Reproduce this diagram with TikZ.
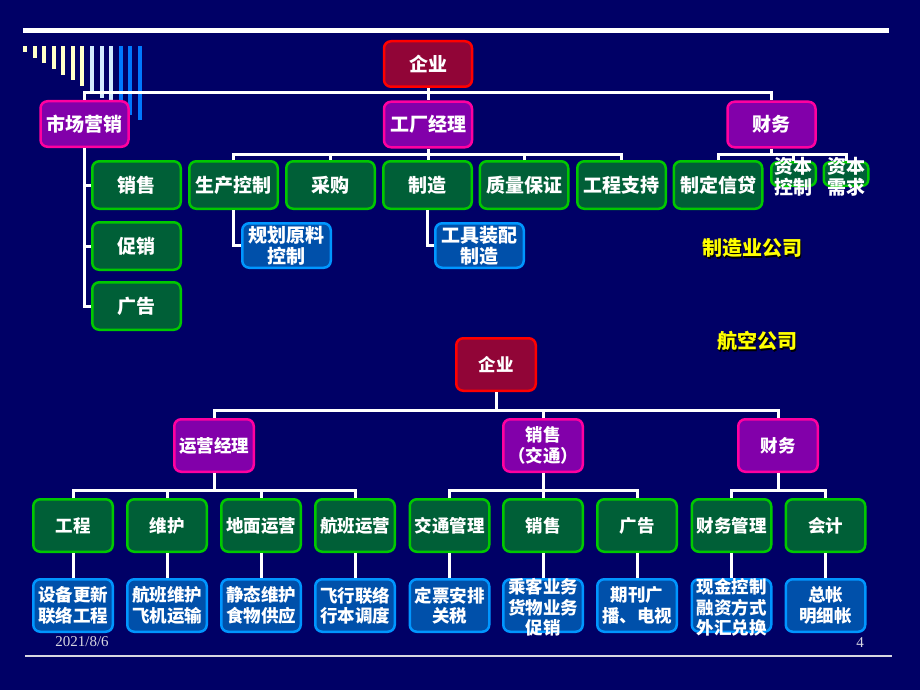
\documentclass[tikz,border=0pt]{standalone}
\usepackage{fontspec}
\setmainfont{Liberation Serif}
\newfontfamily\cjk{Noto Sans CJK SC}
\definecolor{bg}{RGB}{0,0,102}
\definecolor{qyfill}{RGB}{145,5,55}
\definecolor{qyline}{RGB}{255,0,0}
\definecolor{ppfill}{RGB}{130,0,170}
\definecolor{ppline}{RGB}{255,0,160}
\definecolor{gnfill}{RGB}{0,95,55}
\definecolor{gnline}{RGB}{0,200,0}
\definecolor{bufill}{RGB}{0,80,170}
\definecolor{buline}{RGB}{0,150,255}
\definecolor{barY}{RGB}{255,255,200}
\definecolor{barC}{RGB}{210,235,255}
\definecolor{barB}{RGB}{0,120,255}
\definecolor{ylw}{RGB}{255,255,0}
\definecolor{foot}{RGB}{215,215,225}
\newcommand\shadowtxt[1]{\rlap{\kern1.5pt\raisebox{-1.5pt}{\textcolor{black}{#1}}}#1}
\begin{document}
\begin{tikzpicture}[x=1pt,y=-1pt,
  conn/.style={draw=white, line width=3pt},
  bx/.style={rounded corners=7pt, line width=2.5pt, text=white, align=center, inner sep=0pt},
  fbig/.style={font=\cjk\bfseries\fontsize{19}{21}\selectfont},
  fsmall/.style={font=\cjk\bfseries\fontsize{17.5}{20.5}\selectfont},
  qybox/.style={bx, draw=qyline, fill=qyfill},
  ppbox/.style={bx, draw=ppline, fill=ppfill},
  gnbox/.style={bx, draw=gnline, fill=gnfill},
  bubox/.style={bx, draw=buline, fill=bufill},
  topsz/.style={minimum width=88pt, minimum height=45.5pt, fbig},
  rowsz/.style={minimum width=88.5pt, minimum height=47.5pt, fbig},
  botsz/.style={minimum width=79.5pt, minimum height=52.5pt, fsmall},
  tinysz/.style={minimum width=44.5pt, minimum height=23.5pt, rounded corners=6pt},
  txt/.style={text=white, align=center, inner sep=0pt},
  ylab/.style={text=ylw, inner sep=0pt, font=\cjk\bfseries\fontsize{20}{22}\selectfont},
  footx/.style={text=foot, inner sep=0pt, font=\fontsize{15}{16}\selectfont}
]
\useasboundingbox (0,0) rectangle (920,690);
\fill[bg] (0,0) rectangle (920,690);
% top rule and footer rule
\draw[white, line width=5.5pt] (23,30.5) -- (889,30.5);
\draw[foot, line width=1.3pt] (25,656) -- (892,656);
% decorative bars
\foreach \i in {0,...,12}{
  \pgfmathsetmacro\bx{23+9.58*\i}
  \pgfmathsetmacro\by{52+5.7*\i}
  \ifnum\i<7 \def\bc{barY}\else\ifnum\i<10 \def\bc{barC}\else\def\bc{barB}\fi\fi
  \fill[\bc] (\bx,46) rectangle ++(4,\by-46);
}
% ---------------- top chart ----------------
\node[qybox, topsz] (qy1) at (428,64) {企业};
\node[ppbox, topsz] (scyx) at (84.5,124) {市场营销};
\node[ppbox, topsz] (gcjl) at (428,124.5) {工厂经理};
\node[ppbox, topsz] (cw1) at (771.5,124.5) {财务};

\node[gnbox, rowsz] (xs1) at (136.5,185) {销售};
\node[gnbox, rowsz] (cx) at (136.5,246) {促销};
\node[gnbox, rowsz] (gg1) at (136.5,306) {广告};

\node[gnbox, rowsz] (sckz) at (233.5,185) {生产控制};
\node[gnbox, rowsz] (cg) at (330.5,185) {采购};
\node[gnbox, rowsz] (zz) at (427.5,185) {制造};
\node[gnbox, rowsz] (zlbz) at (524,185) {质量保证};
\node[gnbox, rowsz] (gczc) at (621.5,185) {工程支持};
\node[gnbox, rowsz] (zdxd) at (718,185) {制定信贷};
\node[gnbox, tinysz] (zbkz) at (793.5,174) {};
\node[gnbox, tinysz] (zbxq) at (846,174) {};

\node[bubox, rowsz, minimum height=44.5pt] (ghyl) at (286.5,245.5) {规划原料\\控制};
\node[bubox, rowsz, minimum height=44.5pt] (gjzp) at (479.5,245.5) {工具装配\\制造};

\draw[conn] (scyx.north) -- ++(0,-7) -| (cw1.north);
\draw[conn] (qy1.south) -- (gcjl.north);
\draw[conn] (gcjl.south) -- (gcjl.south |- zz.north);
\draw[conn] (sckz.north) -- ++(0,-6) -| (gczc.north);
\draw[conn] (cg.north) -- ++(0,-6);
\draw[conn] (zlbz.north) -- ++(0,-6);
\draw[conn] (cw1.south) -- ++(0,6);
\draw[conn] (zdxd.north) -- ++(0,-6) -| (zbxq.north);
\draw[conn] (zbkz.north) -- ++(0,-7);
\draw[conn] (scyx.south) |- (gg1.west);
\draw[conn] (scyx.south |- xs1.west) -- (xs1.west);
\draw[conn] (scyx.south |- cx.west) -- (cx.west);
\draw[conn] (sckz.south) |- (ghyl.west);
\draw[conn] (zz.south) |- (gjzp.west);

\node[txt, fbig] (zbkzt) at (793.5,177) {资本\\控制};
\node[txt, fbig] (zbxqt) at (846,177) {资本\\需求};

\node[ylab] (lab1) at (752,249) {\shadowtxt{制造业公司}};
\node[ylab] (lab2) at (757,342) {\shadowtxt{航空公司}};

% ---------------- bottom chart ----------------
\node[qybox, botsz] (qy2) at (496,364.5) {企业};
\node[ppbox, botsz] (yyjl) at (214,445.5) {运营经理};
\node[ppbox, botsz] (xs2) at (543,445.5) {销售\\（交通）};
\node[ppbox, botsz] (cw2) at (778,445.5) {财务};

\node[gnbox, botsz] (gc2) at (73,525.5) {工程};
\node[gnbox, botsz] (wh) at (167,525.5) {维护};
\node[gnbox, botsz] (dmyy) at (261,525.5) {地面运营};
\node[gnbox, botsz] (hbyy) at (355,525.5) {航班运营};
\node[gnbox, botsz] (jtgl) at (449.5,525.5) {交通管理};
\node[gnbox, botsz] (xs3) at (543,525.5) {销售};
\node[gnbox, botsz] (gg2) at (637,525.5) {广告};
\node[gnbox, botsz] (cwgl) at (731.5,525.5) {财务管理};
\node[gnbox, botsz] (kj) at (825.5,525.5) {会计};

\node[bubox, botsz] (b1) at (73,605.5) {设备更新\\联络工程};
\node[bubox, botsz] (b2) at (167,605.5) {航班维护\\飞机运输};
\node[bubox, botsz] (b3) at (261,605.5) {静态维护\\食物供应};
\node[bubox, botsz] (b4) at (355,605.5) {飞行联络\\行本调度};
\node[bubox, botsz] (b5) at (449.5,605.5) {定票安排\\关税};
\node[bubox, botsz] (b6) at (543,605.5) {};
\node[bubox, botsz] (b7) at (637,605.5) {期刊广\\播、电视};
\node[bubox, botsz] (b8) at (731.5,605.5) {};
\node[bubox, botsz] (b9) at (825.5,605.5) {总帐\\明细帐};
\node[txt, fsmall] (b6t) at (543,607.5) {乘客业务\\货物业务\\促销};
\node[txt, fsmall] (b8t) at (731.5,607.5) {现金控制\\融资方式\\外汇兑换};

\draw[conn] (yyjl.north) -- ++(0,-8) -| (cw2.north);
\draw[conn] (qy2.south) -- ++(0,18);
\draw[conn] (xs2.north) -- ++(0,-8);
\draw[conn] (yyjl.south) -- ++(0,17);
\draw[conn] (gc2.north) -- ++(0,-8) -| (hbyy.north);
\draw[conn] (wh.north) -- ++(0,-8);
\draw[conn] (dmyy.north) -- ++(0,-8);
\draw[conn] (xs2.south) -- (xs3.north);
\draw[conn] (jtgl.north) -- ++(0,-8) -| (gg2.north);
\draw[conn] (cw2.south) -- ++(0,17);
\draw[conn] (cwgl.north) -- ++(0,-8) -| (kj.north);
\draw[conn] (gc2.south) -- (b1.north);
\draw[conn] (wh.south) -- (b2.north);
\draw[conn] (dmyy.south) -- (b3.north);
\draw[conn] (hbyy.south) -- (b4.north);
\draw[conn] (jtgl.south) -- (b5.north);
\draw[conn] (xs3.south) -- (b6.north);
\draw[conn] (gg2.south) -- (b7.north);
\draw[conn] (cwgl.south) -- (b8.north);
\draw[conn] (kj.south) -- (b9.north);

% footer
\node[footx] (date) at (82,642) {2021/8/6};
\node[footx] (page) at (860,643) {4};
\end{tikzpicture}
\end{document}
